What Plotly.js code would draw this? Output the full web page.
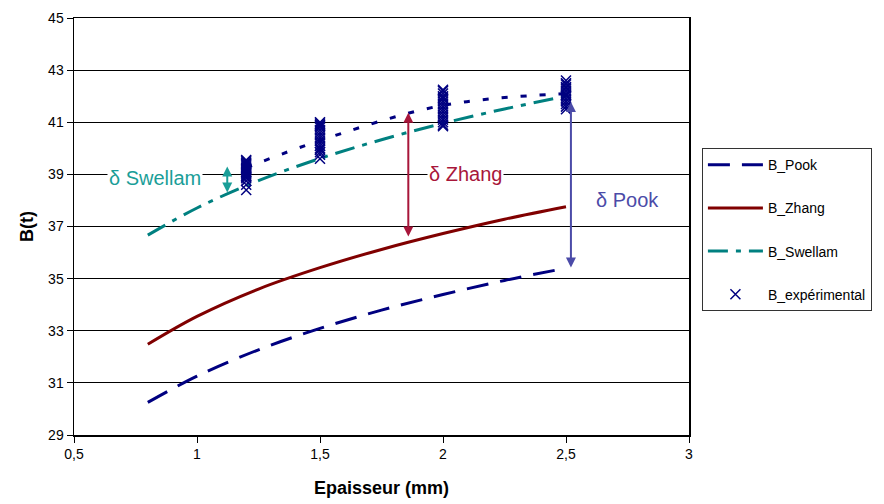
<!DOCTYPE html>
<html>
<head>
<meta charset="utf-8">
<script src="https://cdn.plot.ly/plotly-3.0.1.min.js"></script>
<style>html,body{margin:0;padding:0;background:#fff;}#chart{width:884px;height:504px;}</style>
</head>
<body>
<div id="chart"></div>
<script>
// Model curves (thickness in mm)
const modelX = [0.8, 1.0, 1.25, 1.5, 1.75, 2.0, 2.25, 2.5];
const pookY = [30.25, 31.26, 32.27, 33.09, 33.79, 34.39, 34.93, 35.4];
const zhangY = [32.48, 33.55, 34.6, 35.42, 36.12, 36.73, 37.28, 37.76];
const swellamY = [36.67, 37.71, 38.76, 39.61, 40.33, 40.96, 41.51, 42.0];

// Experimental mean line
const expMeanX = [1.2, 1.5, 2.0, 2.5];
const expMeanY = [39.25, 40.3, 41.65, 42.1];

// Experimental points
const exp12 = [39.55, 39.5, 39.45, 39.4, 39.35, 39.3, 39.25, 39.2, 39.15, 39.1, 39.05, 39.0, 38.95, 38.9, 38.85, 38.75, 38.6, 38.4];
const exp15 = [41.0, 40.95, 40.9, 40.85, 40.8, 40.7, 40.6, 40.5, 40.4, 40.3, 40.2, 40.1, 40.0, 39.95, 39.85, 39.75, 39.6];
const exp20 = [42.25, 42.2, 42.1, 42.0, 41.95, 41.9, 41.8, 41.7, 41.6, 41.5, 41.4, 41.3, 41.2, 41.1, 41.0, 40.9, 40.85];
const exp25 = [42.6, 42.5, 42.45, 42.35, 42.3, 42.2, 42.1, 42.05, 42.0, 41.9, 41.8, 41.7, 41.6, 41.5];
const expThick = [1.2, 1.5, 2.0, 2.5];

// Delta annotations: [x, yTop, yBottom]
const deltaSwellam = [1.123, 39.3, 38.25];
const deltaZhang = [1.859, 41.36, 36.56];
const deltaPook = [2.52, 41.78, 35.37];
const deltaLabels = ["δ Swellam", "δ Zhang", "δ Pook"];
const labelPos = [[0.83, 38.86], [2.09, 39.0], [2.75, 38.02]];

const xTicks = [0.5, 1, 1.5, 2, 2.5, 3];
const yTicks = [29, 31, 33, 35, 37, 39, 41, 43, 45];

const expGroups = [exp12, exp15, exp20, exp25];
const expX = [], expY = [];
expGroups.forEach((g, i) => g.forEach(v => { expX.push(expThick[i]); expY.push(v); }));

const FONT = "Liberation Sans, Arial, sans-serif";

const traces = [
  {x: modelX, y: pookY, name: "B_Pook", mode: "lines", line: {color: "#000080", width: 3, dash: "22px,12px", shape: "spline"}, legendgroup: "a"},
  {x: modelX, y: zhangY, name: "B_Zhang", mode: "lines", line: {color: "#800000", width: 3, shape: "spline"}, legendgroup: "b"},
  {x: modelX, y: swellamY, name: "B_Swellam", mode: "lines", line: {color: "#008080", width: 3, dash: "20px,8px,5px,8px", shape: "spline"}, legendgroup: "c"},
  {x: expMeanX, y: expMeanY, mode: "lines", showlegend: false, line: {color: "#000080", width: 3, dash: "6px,13px", shape: "spline"}, hoverinfo: "skip"},
  {x: expX, y: expY, name: "B_expérimental", mode: "markers", marker: {symbol: "x-thin-open", size: 10, color: "#000080", line: {color: "#000080", width: 1.5}}, legendgroup: "d"}
];

function arrow(d, color) {
  return {x: d[0], y: d[1], ax: d[0], ay: d[2], xref: "x", yref: "y", axref: "x", ayref: "y",
    text: "", showarrow: true, arrowhead: 2, startarrowhead: 2, arrowside: "end+start",
    arrowsize: 1, startarrowsize: 1, arrowwidth: 2, arrowcolor: color, standoff: 0, startstandoff: 0};
}
const labelColors = ["#1a9e98", "#a8163a", "#4b4ba8"];
const annotations = [
  arrow(deltaSwellam, "#1a9e98"),
  arrow(deltaZhang, "#a8163a"),
  arrow(deltaPook, "#4b4ba8")
];
deltaLabels.forEach((t, i) => annotations.push({
  x: labelPos[i][0], y: labelPos[i][1], xref: "x", yref: "y", text: t, showarrow: false,
  font: {family: FONT, size: 20, color: labelColors[i]}, bgcolor: "#ffffff"
}));

const layout = {
  width: 884, height: 504,
  margin: {l: 74, r: 192, t: 18, b: 69},
  paper_bgcolor: "#ffffff", plot_bgcolor: "#ffffff",
  separators: ", ",
  font: {family: FONT, size: 13, color: "#000"},
  showlegend: true,
  legend: {x: 1.021, y: 0.688, xanchor: "left", yanchor: "top", bordercolor: "#333", borderwidth: 1,
    font: {family: FONT, size: 14, color: "#000"}, tracegroupgap: 22, itemwidth: 55, bgcolor: "#fff"},
  xaxis: {range: [0.5, 3], tickvals: xTicks, ticktext: xTicks.map(v => String(v).replace(".", ",")),
    showgrid: false, zeroline: false, showline: true, linecolor: "#000", linewidth: 1.5, mirror: true,
    ticks: "outside", ticklen: 6, tickcolor: "#000",
    tickfont: {family: FONT, size: 14},
    title: {text: "<b>Epaisseur (mm)</b>", font: {family: FONT, size: 18}, standoff: 20}},
  yaxis: {range: [29, 45], tickvals: yTicks, showgrid: true, gridcolor: "#000", gridwidth: 1,
    zeroline: false, showline: true, linecolor: "#000", linewidth: 1.5, mirror: true,
    ticks: "outside", ticklen: 6, tickcolor: "#000",
    tickfont: {family: FONT, size: 14},
    title: {text: "<b>B(t)</b>", font: {family: FONT, size: 18}, standoff: 10}},
  annotations: annotations
};

Plotly.newPlot("chart", traces, layout, {displayModeBar: false, staticPlot: true});
</script>
</body>
</html>
